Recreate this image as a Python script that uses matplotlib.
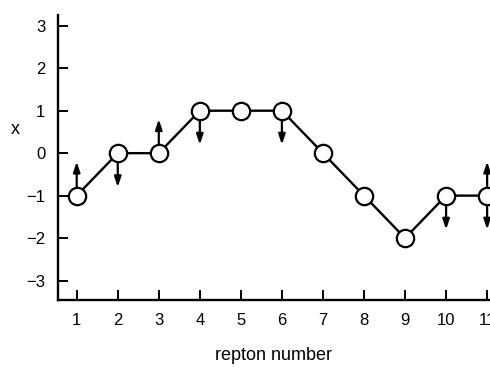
import matplotlib
matplotlib.use("Agg")
import matplotlib.pyplot as plt

# repton positions and the displacement values
repton = [1, 2, 3, 4, 5, 6, 7, 8, 9, 10, 11]
x_vals = [-1, 0, 0, 1, 1, 1, 0, -1, -2, -1, -1]
# arrow directions at each repton: +1 up, -1 down, 0 none, 2 both
arrows = [1, -1, 1, -1, 0, -1, 0, 0, 0, -1, 2]

xticks = [1, 2, 3, 4, 5, 6, 7, 8, 9, 10, 11]
yticks = [-3, -2, -1, 0, 1, 2, 3]

plt.rcParams['font.family'] = ['Liberation Sans', 'DejaVu Sans']

fig = plt.figure(figsize=(4.9, 3.7), dpi=100)
ax = fig.add_axes([0.118, 0.189, 0.882, 0.770])

ax.plot(repton, x_vals, color='black', lw=1.7, marker='o', ms=12.5,
        mfc='white', mec='black', mew=1.6, zorder=3, clip_on=False)

# little arrows showing which way each repton can move
for r, v, a in zip(repton, x_vals, arrows):
    dirs = []
    if a == 2:
        dirs = [1, -1]
    elif a != 0:
        dirs = [a]
    for d in dirs:
        ax.annotate('', xy=(r, v + 0.8 * d), xytext=(r, v),
                    arrowprops=dict(arrowstyle='-|>,head_length=0.6,head_width=0.2',
                                    color='black', lw=1.6, shrinkA=6.5, shrinkB=0),
                    zorder=2, annotation_clip=False)

ax.set_xlim(0.54, 11.07)
ax.set_ylim(-3.46, 3.25)
ax.set_xticks(xticks)
ax.set_yticks(yticks)
ax.set_yticklabels(['\u22123', '\u22122', '\u22121', '0', '1', '2', '3'])

for s in ['top', 'right']:
    ax.spines[s].set_visible(False)
for s in ['left', 'bottom']:
    ax.spines[s].set_linewidth(1.7)

ax.tick_params(direction='in', length=7, width=1.4, labelsize=12, pad=9)

ax.set_xlabel('repton number', fontsize=13, labelpad=14)
ax.set_ylabel('x', fontsize=13, rotation=0, va='center')
ax.yaxis.set_label_coords(-0.098, 0.6)

fig.savefig('out.png', dpi=100)
